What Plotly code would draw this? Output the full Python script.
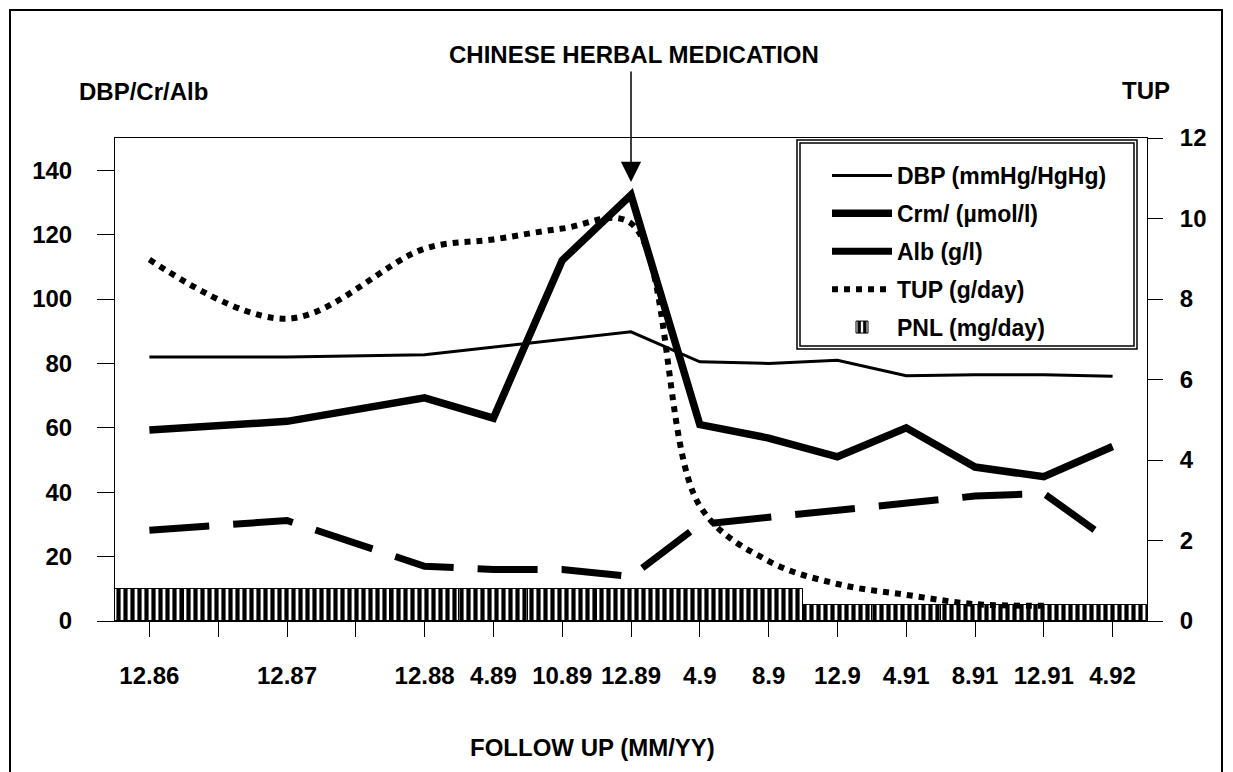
import plotly.graph_objects as go

# ---------------- data ----------------
x_labels = ["12.86", "12.87", "12.88", "4.89", "10.89", "12.89", "4.9",
            "8.9", "12.9", "4.91", "8.91", "12.91", "4.92"]
x_pos = [0, 2, 4, 5, 6, 7, 8, 9, 10, 11, 12, 13, 14]

dbp = [82, 82, 82.7, 85, 87.4, 89.8, 80.5, 80, 81, 76.2, 76.5, 76.5, 76]
crm = [59.3, 62, 69.3, 63, 112, 132.3, 61, 56.8, 51, 60, 47.8, 44.8, 54.2]
alb = [28.2, 31.2, 17, 16, 16, 13.8, 30, 32.3, 34.3, 36.6, 38.8, 39.6, 24.3]
tup = [8.98, 7.51, 9.25, 9.48, 9.75, 9.88, 2.86, 1.49, 0.92, 0.65, 0.42, 0.38, None]

pnl_pos = [0, 1, 2, 3, 4, 5, 6, 7, 8, 9, 10, 11, 12, 13, 14]
pnl = [10, 10, 10, 10, 10, 10, 10, 10, 10, 10, 5, 5, 5, 5, 5]

tick_vals = [0, 1, 2, 3, 4, 5, 6, 7, 8, 9, 10, 11, 12, 13, 14]
tick_text = [x_labels[x_pos.index(v)] if v in x_pos else "" for v in tick_vals]

# ---------------- layout geometry ----------------
W, H = 1233, 772
L, R, T, B = 115, 86, 138, 151
PW, PH = W - L - R, H - T - B


def px(xp):
    return (xp - L) / PW


def py(yp):
    return (H - B - yp) / PH


FONT = "Liberation Sans, Arial, sans-serif"
bold = dict(family=FONT, size=24, color="black", weight="bold")

fig = go.Figure()

fig.add_trace(go.Bar(
    x=pnl_pos, y=pnl, width=1, name="PNL (mg/day)",
    marker=dict(color="white", line=dict(color="black", width=1),
                pattern=dict(shape="|", size=7, solidity=0.6,
                             fgcolor="black", bgcolor="white", fillmode="replace")),
    legendrank=5, legendgroup="e"))

fig.add_trace(go.Scatter(
    x=x_pos, y=dbp, mode="lines", name="DBP (mmHg/HgHg)",
    line=dict(color="black", width=3), legendrank=1, legendgroup="a"))

fig.add_trace(go.Scatter(
    x=x_pos, y=crm, mode="lines", name="Crm/ (µmol/l)",
    line=dict(color="black", width=7.5), legendrank=2, legendgroup="b"))

fig.add_trace(go.Scatter(
    x=x_pos, y=alb, mode="lines", name="Alb (g/l)",
    line=dict(color="black", width=7, dash="60px,24px"),
    legendrank=3, legendgroup="c"))

fig.add_trace(go.Scatter(
    x=x_pos, y=tup, mode="lines", name="TUP (g/day)", yaxis="y2",
    line=dict(color="black", width=6, dash="6px,6px", shape="spline", smoothing=1),
    legendrank=4, legendgroup="d"))

axis_common = dict(showgrid=False, zeroline=False, showline=True,
                   linecolor="black", linewidth=1, ticks="outside",
                   tickcolor="black", tickwidth=1, tickfont=bold)

fig.update_layout(
    width=W, height=H,
    margin=dict(l=L, r=R, t=T, b=B, pad=0),
    paper_bgcolor="white", plot_bgcolor="white",
    bargap=0,
    xaxis=dict(range=[-0.5, 14.5], tickmode="array", tickvals=tick_vals,
               ticktext=tick_text, ticklen=15, mirror=True,
               ticklabelstandoff=18, **axis_common),
    yaxis=dict(range=[0, 150], tickmode="array",
               tickvals=[0, 20, 40, 60, 80, 100, 120, 140],
               ticklen=17, ticklabelstandoff=20, **axis_common),
    yaxis2=dict(range=[0, 12], overlaying="y", side="right", tickmode="array",
                tickvals=[0, 2, 4, 6, 8, 10, 12], ticklen=15,
                ticklabelstandoff=12, **axis_common),
    showlegend=True,
    legend=dict(x=px(827), y=py(154), xanchor="left", yanchor="top",
                bgcolor="rgba(0,0,0,0)", borderwidth=0,
                font=dict(family=FONT, size=23, color="black", weight="bold"),
                traceorder="grouped", tracegroupgap=5, itemwidth=60),
)

# legend box (double frame)
fig.add_shape(type="rect", xref="paper", yref="paper",
              x0=px(797), x1=px(1137), y0=py(349), y1=py(140),
              line=dict(color="black", width=1.5), fillcolor="rgba(0,0,0,0)")
fig.add_shape(type="rect", xref="paper", yref="paper",
              x0=px(800), x1=px(1134), y0=py(346), y1=py(143),
              line=dict(color="black", width=1.5), fillcolor="rgba(0,0,0,0)")

# outer frame
fig.add_shape(type="rect", xref="paper", yref="paper",
              x0=px(10), x1=px(1222), y0=py(800), y1=py(10),
              line=dict(color="black", width=2), fillcolor="rgba(0,0,0,0)")

# texts
fig.add_annotation(text="CHINESE HERBAL MEDICATION", xref="paper", yref="paper",
                   x=px(634), y=py(55), showarrow=False, font=bold,
                   xanchor="center", yanchor="middle")
fig.add_annotation(text="DBP/Cr/Alb", xref="paper", yref="paper",
                   x=px(143), y=py(92), showarrow=False, font=bold,
                   xanchor="center", yanchor="middle")
fig.add_annotation(text="TUP", xref="paper", yref="paper",
                   x=px(1146), y=py(90), showarrow=False, font=bold,
                   xanchor="center", yanchor="middle")
fig.add_annotation(text="FOLLOW UP (MM/YY)", xref="paper", yref="paper",
                   x=px(592), y=py(747), showarrow=False, font=bold,
                   xanchor="center", yanchor="middle")

# arrow pointing at 12.89
fig.add_annotation(text="", x=7, y=136.3, xref="x", yref="y",
                   showarrow=True, ax=0, ay=-112, arrowhead=2,
                   arrowsize=2.7, arrowwidth=1.5, arrowcolor="black")

fig.write_html("out.html")
